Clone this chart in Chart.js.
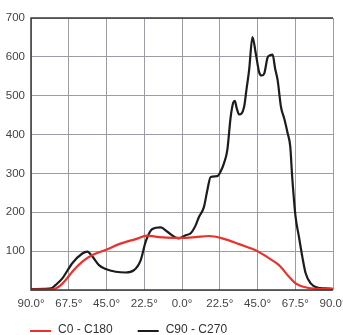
<!DOCTYPE html>
<html>
<head>
<meta charset="utf-8">
<script src="https://cdn.jsdelivr.net/npm/chart.js@4"></script>
<style>
  html, body { margin: 0; padding: 0; background: #fff; }
  #wrap { width: 343px; height: 335px; }
</style>
</head>
<body>
<div id="wrap"><canvas id="chartLight" width="343" height="335"></canvas></div>
<script>
// ===== DATA =====
const xTicks = [-90, -67.5, -45, -22.5, 0, 22.5, 45, 67.5, 90];
const yTicks = [100, 200, 300, 400, 500, 600, 700];

const c0Angles = [-90, -80, -76.7, -73.3, -69.3, -65.4, -59.4, -53.4, -45.5, -37.5, -27.6, -20.7, -13.7, -5, 0, 8, 16, 24, 34, 45, 51, 57.8, 63.8, 67.7, 71.7, 80, 90];
const c0Values = [1, 1, 2, 9, 26, 47, 73, 90, 103, 118, 131, 140, 136, 134, 134, 136, 139, 133, 118, 100, 84, 64, 34, 17, 9, 3, 2];

const c90Angles = [-90, -82, -78, -75.3, -71.3, -65.4, -59.4, -56.4, -53.4, -49.5, -45.5, -39.5, -33.6, -28.6, -24.6, -21.6, -17.7, -12.7, -8.7, -3.8, -1.8, 2.2, 5.2, 8.2, 10.1, 13.1, 15.1, 17.1, 21, 23, 25, 27, 29, 30.5, 31.5, 32.5, 34, 37, 38.5, 40, 42, 44, 46, 47.5, 49, 51, 52.5, 54, 55.5, 57, 59, 61, 63, 64.5, 65.7, 67.7, 69.7, 71.7, 73.7, 76.7, 80.6, 85, 90];
const c90Values = [2, 3, 4, 13, 30, 69, 94, 99, 86, 64, 54, 47, 45, 51, 77, 125, 157, 161, 150, 135, 133, 141, 146, 167, 188, 214, 257, 291, 293, 305, 326, 360, 445, 482, 487, 470, 452, 471, 518, 566, 651, 608, 560, 552, 557, 598, 604, 606, 570, 540, 471, 440, 403, 370, 290, 188, 137, 86, 43, 17, 6, 4, 3];

const seriesNames = ['C0 - C180', 'C90 - C270'];
const seriesColors = ['#e8322b', '#1c1c1c'];

// =====================================================

const FONT = '"Liberation Sans Narrow", "Liberation Sans", Arial, sans-serif';

function toPoints(xs, ys) {
  return xs.map((x, i) => ({ x, y: ys[i] }));
}

/* ---- frame round the plot area ---- */
const framePlugin = {
  id: 'frame',
  afterDatasetsDraw(chart) {
    const { ctx, chartArea: a } = chart;
    ctx.save();
    ctx.strokeStyle = '#3a3a3a';
    ctx.lineWidth = 1.5;
    ctx.beginPath();
    ctx.moveTo(a.right, a.top);
    ctx.lineTo(a.left, a.top);
    ctx.lineTo(a.left, a.bottom);
    ctx.lineTo(a.right, a.bottom);
    ctx.stroke();
    ctx.restore();
  }
};

/* ---- legend drawn under the axis, left aligned ---- */
const lineLegendPlugin = {
  id: 'lineLegend',
  afterDraw(chart) {
    const ctx = chart.ctx;
    const y = 330;
    let x = 30;
    ctx.save();
    ctx.font = '12px ' + FONT;
    ctx.textBaseline = 'middle';
    chart.data.datasets.forEach(ds => {
      ctx.strokeStyle = ds.borderColor;
      ctx.lineWidth = 2;
      ctx.beginPath();
      ctx.moveTo(x, y + 1);
      ctx.lineTo(x + 21, y + 1);
      ctx.stroke();
      ctx.fillStyle = '#333';
      ctx.fillText(ds.label, x + 28, y);
      x += 28 + ctx.measureText(ds.label).width + 25;
    });
    ctx.restore();
  }
};

const ctx = document.getElementById('chartLight').getContext('2d');

new Chart(ctx, {
  type: 'line',
  data: {
    datasets: [
      {
        label: seriesNames[0],
        data: toPoints(c0Angles, c0Values),
        borderColor: seriesColors[0],
        borderWidth: 2.2,
        pointRadius: 0,
        fill: false,
        cubicInterpolationMode: 'monotone'
      },
      {
        label: seriesNames[1],
        data: toPoints(c90Angles, c90Values),
        borderColor: seriesColors[1],
        borderWidth: 2.2,
        pointRadius: 0,
        fill: false,
        cubicInterpolationMode: 'monotone'
      }
    ]
  },
  options: {
    responsive: false,
    animation: false,
    layout: { padding: { top: 18, right: 10, bottom: 25, left: 0 } },
    plugins: {
      legend: { display: false },
      tooltip: { enabled: false }
    },
    scales: {
      x: {
        type: 'linear',
        min: -90,
        max: 90,
        afterBuildTicks: s => { s.ticks = xTicks.map(v => ({ value: v })); },
        afterFit: s => { s.height = 20; s.paddingLeft = 0; s.paddingRight = 0; },
        grid: { color: '#9c9ca4', lineWidth: 1, drawTicks: false },
        border: { display: false },
        ticks: {
          padding: 7,
          color: '#444',
          font: { family: FONT, size: 11.5 },
          maxRotation: 0,
          autoSkip: false,
          callback: v => Math.abs(v).toFixed(1) + '°'
        }
      },
      y: {
        min: 0,
        max: 700,
        afterBuildTicks: s => { s.ticks = [0].concat(yTicks).map(v => ({ value: v })); },
        afterFit: s => { s.width = 31; },
        grid: { color: '#9c9ca4', lineWidth: 1, drawTicks: false },
        border: { display: false },
        ticks: {
          padding: 6,
          color: '#444',
          font: { family: FONT, size: 11.5 },
          callback: v => (v === 0 ? '' : String(v))
        }
      }
    }
  },
  plugins: [framePlugin, lineLegendPlugin]
});
</script>
</body>
</html>
